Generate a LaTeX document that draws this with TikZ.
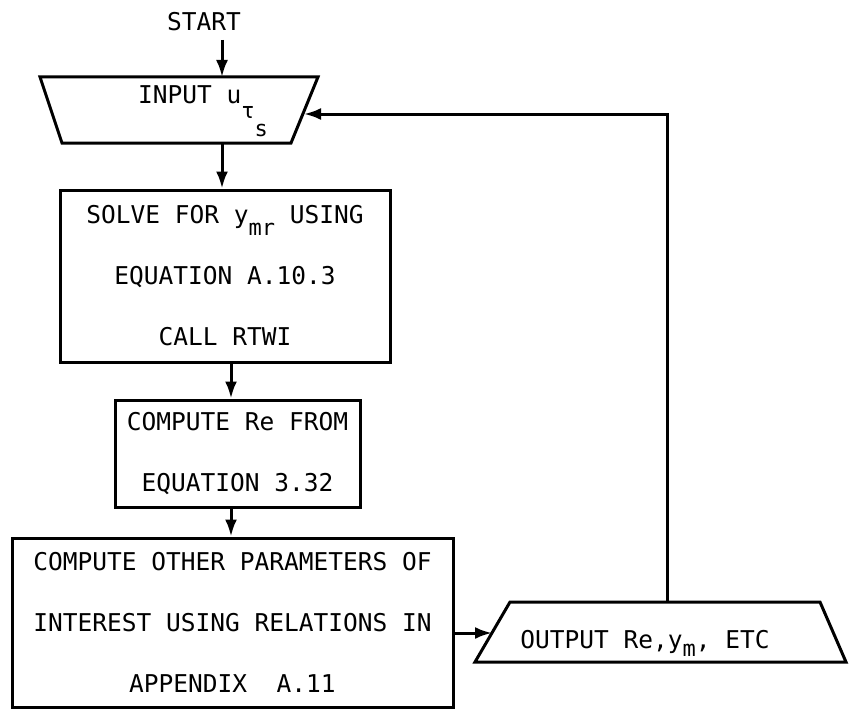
\documentclass[tikz,border=0pt]{standalone}
\usepackage{fontspec}
\setmonofont{DejaVu Sans Mono}
\usetikzlibrary{arrows.meta,calc}
\newcommand{\lowr}[2]{\raisebox{#1}{\fontsize{22}{22}\selectfont #2}}
\begin{document}
\begin{tikzpicture}[x=1pt,y=-1pt,line width=3pt,line join=miter,
  every node/.style={font=\ttfamily\fontsize{24.5}{61}\selectfont},
  box/.style={draw,rectangle,inner sep=0pt,align=center},
  arr/.style={-{Latex[length=17pt,width=12pt]}}]
\useasboundingbox (0,0) rectangle (849,709);
% START and input
\node (start) at (204,22) {START};
\coordinate (st) at (222,40);
\draw (40,77) -- (318,77) -- (291,143) -- (62,143) -- cycle;
\coordinate (inTop) at (222,77);
\coordinate (inBot) at (222,143);
\coordinate (inR) at (304,114);
\node[anchor=base] (inlbl) at (203,103) {INPUT u\lowr{-15pt}{τ}\lowr{-33pt}{s}};
% process boxes
\node[box,minimum width=330pt,minimum height=172pt] (solve) at (225,276) {SOLVE FOR y\lowr{-12pt}{mr} USING\\EQUATION A.10.3\\CALL RTWI};
\node[box,minimum width=245pt,minimum height=107pt] (re) at (237.5,453.5) {COMPUTE Re FROM\\EQUATION 3.32};
\node[box,minimum width=441pt,minimum height=169pt] (other) at (232.5,622.5) {COMPUTE OTHER PARAMETERS OF\\INTEREST USING RELATIONS IN\\APPENDIX\ \ A.11};
% output
\draw (510,602) -- (820,602) -- (846,662) -- (475,662) -- cycle;
\coordinate (outL) at (492,633);
\coordinate (outTop) at (667,602);
\node[anchor=base] (outlbl) at (645,648) {OUTPUT Re,y\lowr{-8pt}{m}, ETC};
% connectors
\coordinate (ax) at (231,0);
\coordinate (fb) at (667,114);
\draw[arr] (st) -- (inTop);
\draw[arr] (inBot) -- (solve.north -| inBot);
\draw[arr] (solve.south -| ax) -- (re.north -| ax);
\draw[arr] (re.south -| ax) -- (other.north -| ax);
\draw[arr] (other.east |- outL) -- (outL);
\draw[arr] (outTop) -- (fb) -- (inR);
\end{tikzpicture}
\end{document}
